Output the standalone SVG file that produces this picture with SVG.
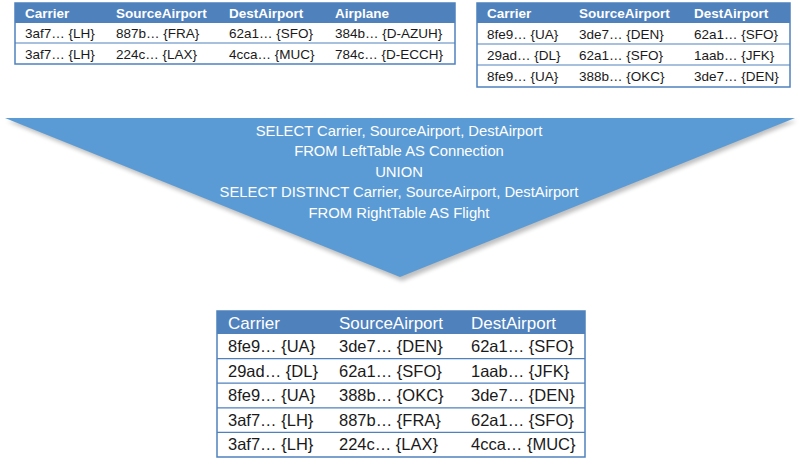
<svg xmlns="http://www.w3.org/2000/svg" width="800" height="464" viewBox="0 0 800 464">
<defs>
<style>
.tb{fill:#ffffff;stroke:#4f81bd;stroke-width:1.5}
.hd{fill:#4f81bd}
.ln{stroke:#4f81bd;stroke-width:1.2}
.ht{font-family:"Liberation Sans",Arial,sans-serif;font-size:13.5px;font-weight:bold;fill:#ffffff}
.dt{font-family:"Liberation Sans",Arial,sans-serif;font-size:13.5px;fill:#1a1a1a}
.bh{font-family:"Liberation Sans",Arial,sans-serif;font-size:17px;fill:#ffffff}
.bd{font-family:"Liberation Sans",Arial,sans-serif;font-size:16.5px;fill:#1a1a1a}
.q{font-family:"Liberation Sans",Arial,sans-serif;font-size:14.8px;fill:#ffffff;text-anchor:middle}
</style>
<filter id="sh" x="-5%" y="-10%" width="110%" height="130%">
<feGaussianBlur stdDeviation="2"/>
</filter>
</defs>

<g id="left-table">
<rect class="tb" x="15" y="3" width="440" height="61"/>
<rect class="hd" x="15" y="3" width="440" height="20"/>
<line class="ln" x1="15" y1="43" x2="455" y2="43"/>
<text class="ht" x="25" y="18">Carrier</text>
<text class="ht" x="116" y="18">SourceAirport</text>
<text class="ht" x="229" y="18">DestAirport</text>
<text class="ht" x="335" y="18">Airplane</text>
<text class="dt" x="25" y="38">3af7… {LH}</text>
<text class="dt" x="116" y="38">887b… {FRA}</text>
<text class="dt" x="229" y="38">62a1… {SFO}</text>
<text class="dt" x="335" y="38">384b… {D-AZUH}</text>
<text class="dt" x="25" y="59">3af7… {LH}</text>
<text class="dt" x="116" y="59">224c… {LAX}</text>
<text class="dt" x="229" y="59">4cca… {MUC}</text>
<text class="dt" x="335" y="59">784c… {D-ECCH}</text>
</g>

<g id="right-table">
<rect class="tb" x="477" y="3" width="313" height="84"/>
<rect class="hd" x="477" y="3" width="313" height="20"/>
<line class="ln" x1="477" y1="44" x2="790" y2="44"/>
<line class="ln" x1="477" y1="65" x2="790" y2="65"/>
<text class="ht" x="487" y="18">Carrier</text>
<text class="ht" x="579" y="18">SourceAirport</text>
<text class="ht" x="694" y="18">DestAirport</text>
<text class="dt" x="487" y="39">8fe9… {UA}</text>
<text class="dt" x="579" y="39">3de7… {DEN}</text>
<text class="dt" x="694" y="39">62a1… {SFO}</text>
<text class="dt" x="487" y="60">29ad… {DL}</text>
<text class="dt" x="579" y="60">62a1… {SFO}</text>
<text class="dt" x="694" y="60">1aab… {JFK}</text>
<text class="dt" x="487" y="81">8fe9… {UA}</text>
<text class="dt" x="579" y="81">388b… {OKC}</text>
<text class="dt" x="694" y="81">3de7… {DEN}</text>
</g>

<g id="union-query">
<polygon points="7,121 797,121 402,281" fill="#000000" opacity="0.25" filter="url(#sh)"/>
<polygon points="5,118 795,118 400,277" fill="#5b9bd5"/>
<text class="q" x="399" y="136">SELECT Carrier, SourceAirport, DestAirport</text>
<text class="q" x="399" y="156">FROM LeftTable AS Connection</text>
<text class="q" x="399" y="177">UNION</text>
<text class="q" x="399" y="197">SELECT DISTINCT Carrier, SourceAirport, DestAirport</text>
<text class="q" x="399" y="218">FROM RightTable AS Flight</text>
</g>

<g id="result-table">
<rect class="tb" x="217" y="311" width="368" height="146"/>
<rect class="hd" x="217" y="311" width="368" height="23"/>
<line class="ln" x1="217" y1="358.6" x2="585" y2="358.6"/>
<line class="ln" x1="217" y1="383.2" x2="585" y2="383.2"/>
<line class="ln" x1="217" y1="407.8" x2="585" y2="407.8"/>
<line class="ln" x1="217" y1="432.4" x2="585" y2="432.4"/>
<text class="bh" x="228" y="329">Carrier</text>
<text class="bh" x="339" y="329">SourceAirport</text>
<text class="bh" x="471" y="329">DestAirport</text>
<text class="bd" x="228" y="352">8fe9… {UA}</text>
<text class="bd" x="339" y="352">3de7… {DEN}</text>
<text class="bd" x="471" y="352">62a1… {SFO}</text>
<text class="bd" x="228" y="377">29ad… {DL}</text>
<text class="bd" x="339" y="377">62a1… {SFO}</text>
<text class="bd" x="471" y="377">1aab… {JFK}</text>
<text class="bd" x="228" y="401">8fe9… {UA}</text>
<text class="bd" x="339" y="401">388b… {OKC}</text>
<text class="bd" x="471" y="401">3de7… {DEN}</text>
<text class="bd" x="228" y="426">3af7… {LH}</text>
<text class="bd" x="339" y="426">887b… {FRA}</text>
<text class="bd" x="471" y="426">62a1… {SFO}</text>
<text class="bd" x="228" y="450">3af7… {LH}</text>
<text class="bd" x="339" y="450">224c… {LAX}</text>
<text class="bd" x="471" y="450">4cca… {MUC}</text>
</g>

<g id="connectors"></g>
</svg>
